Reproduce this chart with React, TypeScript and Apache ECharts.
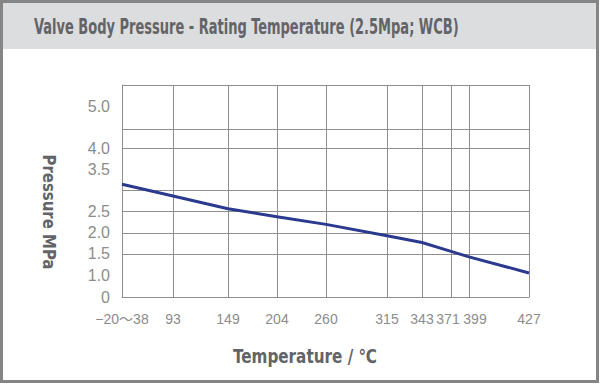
import React, { useEffect, useRef } from "react";
import * as echarts from "echarts";

// Temperature categories (°C) and their tick labels
const tempLabels = ["−20～38", "93", "149", "204", "260", "315", "343", "371", "399", "427"];
// Axis spacing of the original (non-uniform tick layout along the x axis)
const tempSlots = [0, 51, 106, 155, 204, 265, 300, 329, 347, 407];
// Pressure rating (MPa)
const pressure = [3.15, 2.87, 2.57, 2.38, 2.2, 1.93, 1.77, 1.56, 1.43, 1.05];
// Y axis labelled values and grid line values
const yLabelValues = [0.48, 1, 1.5, 2, 2.5, 3.5, 4, 5];
const yGridValues = [0.48, 1.5, 2, 2.5, 3, 4, 4.45, 5.5];

const TITLE = "Valve Body Pressure - Rating Temperature (2.5Mpa; WCB)";
const X_NAME = "Temperature / ℃";
const Y_NAME = "Pressure MPa";

const CONDENSED = "'DejaVu Sans Condensed', 'DejaVu Sans', sans-serif";

function fitScale(text: string, size: number, target: number): number {
  const ctx = document.createElement("canvas").getContext("2d");
  if (!ctx) return 1;
  ctx.font = `bold ${size}px ${CONDENSED}`;
  const w = ctx.measureText(text).width;
  return w > 0 ? target / w : 1;
}

export default function App() {
  const ref = useRef<HTMLDivElement>(null);
  useEffect(() => {
    document.body.style.margin = "0";
    const chart = echarts.init(ref.current!, null, { renderer: "svg" });
    const gridColor = "#8e8e8e";
    const labelColor = "#8c8c8c";
    const nameColor = "#636468";
    const nameStyle = (text: string, size: number, align: string) => ({
      text,
      fontFamily: CONDENSED,
      fontWeight: "bold",
      fontSize: size,
      fill: nameColor,
      textAlign: align,
      textVerticalAlign: "middle",
    });
    chart.setOption({
      animation: false,
      backgroundColor: "#ffffff",
      grid: { left: 122, right: 71, top: 85, bottom: 88 },
      graphic: [
        { type: "rect", z: -10, shape: { x: 3, y: 3, width: 593, height: 46 }, style: { fill: "#dcdddf" } },
        { type: "rect", z: 100, shape: { x: 1.5, y: 1.5, width: 596, height: 380 }, style: { fill: "none", stroke: "#858585", lineWidth: 3 } },
        { type: "text", x: 34, y: 26, scaleX: fitScale(TITLE, 21, 425), style: nameStyle(TITLE, 21, "left") },
        { type: "text", x: 305, y: 356, scaleX: fitScale(X_NAME, 19, 144), style: nameStyle(X_NAME, 19, "center") },
        {
          type: "text",
          x: 49,
          y: 212,
          rotation: -Math.PI / 2,
          scaleX: fitScale(Y_NAME, 18, 115),
          style: nameStyle(Y_NAME, 18, "center"),
        },
      ],
      xAxis: {
        type: "value",
        min: 0,
        max: 407,
        axisLine: { show: true, lineStyle: { color: gridColor, width: 1 } },
        axisTick: { show: false, customValues: tempSlots },
        axisLabel: {
          customValues: tempSlots,
          formatter: (v: number) => {
            const i = tempSlots.indexOf(v);
            if (i < 0) return "";
            const t = tempLabels[i];
            if (t === "371") return `{l|${t}}`;
            if (t === "399") return `{r|${t}}`;
            return t;
          },
          rich: {
            l: { padding: [0, 6, 0, 0], color: labelColor, fontFamily: "Liberation Sans", fontSize: 14 },
            r: { padding: [0, 0, 0, 12], color: labelColor, fontFamily: "Liberation Sans", fontSize: 14 },
          },
          color: labelColor,
          fontFamily: "Liberation Sans, Noto Sans CJK SC",
          fontSize: 14,
          margin: 15,
        },
        splitLine: { show: true, lineStyle: { color: gridColor, width: 1 } },
      },
      yAxis: {
        type: "value",
        min: 0.48,
        max: 5.5,
        axisLine: { show: true, lineStyle: { color: gridColor, width: 1 } },
        axisTick: { show: false, customValues: yGridValues },
        axisLabel: {
          customValues: yLabelValues,
          formatter: (v: number) => (v < 0.9 ? "0" : v.toFixed(1)),
          color: labelColor,
          fontFamily: "Liberation Sans",
          fontSize: 16,
          margin: 12,
        },
        splitLine: { show: true, lineStyle: { color: gridColor, width: 1 } },
      },
      series: [
        {
          type: "line",
          data: tempSlots.map((s, i) => [s, pressure[i]]),
          symbol: "none",
          lineStyle: { color: "#2b3a8e", width: 3 },
          z: 5,
        },
      ],
    });
    return () => chart.dispose();
  }, []);
  return <div ref={ref} style={{ width: 600, height: 385 }} />;
}
